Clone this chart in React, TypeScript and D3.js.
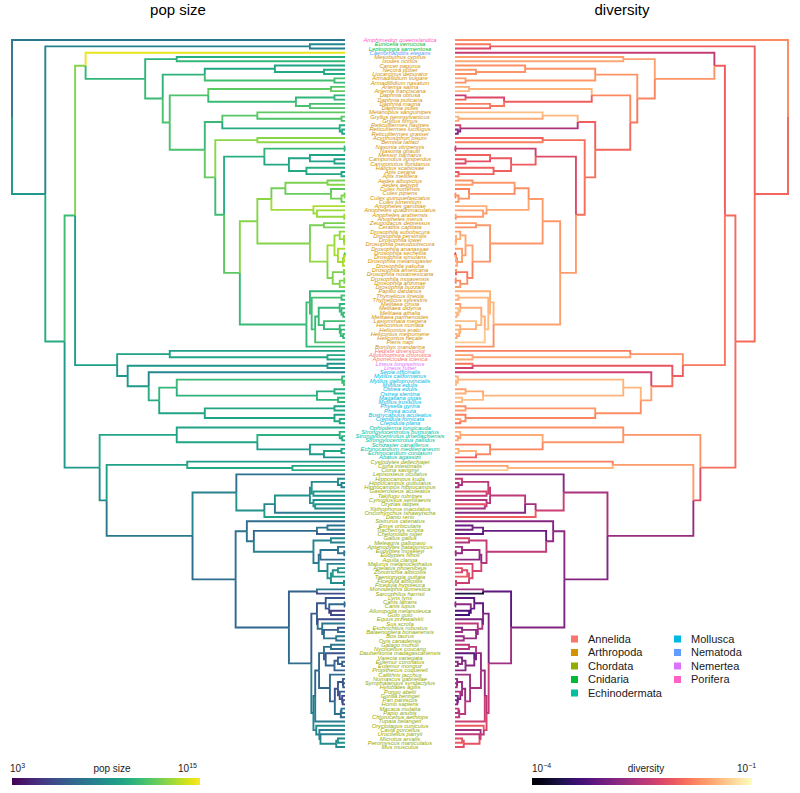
import React, { useMemo } from 'react';
import * as d3 from 'd3';

// ---------------- DATA ----------------
const tipNames: string[] = [
  'Amphimedon queenslandica', 'Eunicella verrucosa', 'Leptogorgia sarmentosa', 'Caenorhabditis elegans',
  'Mesobuthus cyprius', 'Ixodes ricinus', 'Cancer pagurus', 'Necora puber', 'Liocarcinus depurator',
  'Armadillidium vulgare', 'Armadillidium nasatum', 'Artemia salina', 'Artemia franciscana',
  'Daphnia obtusa', 'Daphnia pulicaria', 'Daphnia magna', 'Daphnia pulex', 'Melanoplus sanguinipes',
  'Gryllus pennsylvanicus', 'Gryllus firmus', 'Reticulitermes flavipes', 'Reticulitermes lucifugus',
  'Reticulitermes grassei', 'Acyrthosiphon pisum', 'Bemisia tabaci', 'Nasonia vitripennis',
  'Nasonia giraulti', 'Messor barbarus', 'Camponotus ligniperdus', 'Camponotus floridanus',
  'Halictus scabiosae', 'Apis cerana', 'Apis mellifera', 'Aedes albopictus', 'Aedes aegypti',
  'Culex hortensis', 'Culex pipiens', 'Culex quinquefasciatus', 'Culex torrentium', 'Anopheles gambiae',
  'Anopheles quadrimaculatus', 'Anopheles arabiensis', 'Anopheles merus', 'Zeugodacus depressus',
  'Ceratitis capitata', 'Drosophila subobscura', 'Drosophila persimilis', 'Drosophila lowei',
  'Drosophila pseudoobscura', 'Drosophila ananassae', 'Drosophila sechellia', 'Drosophila simulans',
  'Drosophila melanogaster', 'Drosophila yakuba', 'Drosophila americana', 'Drosophila novamexicana',
  'Drosophila mojavensis', 'Drosophila arizonae', 'Drosophila buzzatii', 'Papilio dardanus',
  'Thymelicus lineola', 'Thymelicus sylvestris', 'Melitaea cinxia', 'Melitaea didyma', 'Melitaea athalia',
  'Melitaea parthenoides', 'Lasiommata megera', 'Heliconius numata', 'Heliconius erato',
  'Heliconius melpomene', 'Heliconius hecale', 'Pieris napi', 'Bombyx mandarina',
  'Hediste diversicolor', 'Allolobophora chlorotica', 'Aporrectodea icterica', 'Lineus longissimus',
  'Lineus ruber', 'Sepia officinalis', 'Mytilus californianus', 'Mytilus galloprovincialis',
  'Mytilus edulis', 'Ostrea edulis', 'Ostrea stentina', 'Magallana gigas', 'Mytilus trossulus',
  'Physella gyrina', 'Physa acuta', 'Bostrycapulus aculeatus', 'Crepidula fornicata', 'Crepidula plana',
  'Ophioderma longicauda', 'Strongylocentrotus purpuratus', 'Strongylocentrotus droebachiensis',
  'Strongylocentrotus pallidus', 'Schizaster canaliferus', 'Echinocardium mediterraneum',
  'Echinocardium cordatum', 'Abatus agassizii', 'Cystodytes dellechiajei', 'Ciona intestinalis',
  'Ciona savignyi', 'Lepisosteus oculatus', 'Hippocampus kuda', 'Hippocampus guttulatus',
  'Hippocampus hippocampus', 'Gasterosteus aculeatus', 'Takifugu rubripes', 'Cynoglossus semilaevis',
  'Oryzias latipes', 'Xiphophorus maculatus', 'Oncorhynchus tshawytscha', 'Danio rerio',
  'Sistrurus catenatus', 'Emys orbicularis', 'Trachemys scripta', 'Chelonoidis niger', 'Gallus gallus',
  'Meleagris gallopavo', 'Aptenodytes patagonicus', 'Eudyptes moseleyi', 'Eudyptes filholi',
  'Aquila clanga', 'Malurus melanocephalus', 'Agelaius phoeniceus', 'Zonotrichia albicollis',
  'Taeniopygia guttata', 'Ficedula albicollis', 'Ficedula hypoleuca', 'Monodelphis domestica',
  'Sarcophilus harrisii', 'Lynx lynx', 'Canis latrans', 'Canis lupus', 'Ailuropoda melanoleuca',
  'Gulo gulo', 'Equus przewalskii', 'Sus scrofa', 'Eschrichtius robustus', 'Balaenoptera bonaerensis',
  'Bos taurus', 'Ovis canadensis', 'Galago moholi', 'Nycticebus coucang', 'Daubentonia madagascariensis',
  'Varecia variegata', 'Eulemur coronatus', 'Eulemur mongoz', 'Propithecus coquereli',
  'Callithrix jacchus', 'Nomascus gabriellae', 'Symphalangus syndactylus', 'Hylobates agilis',
  'Pongo abelii', 'Gorilla beringei', 'Pan paniscus', 'Homo sapiens', 'Macaca mulatta', 'Papio anubis',
  'Chlorocebus aethiops', 'Tupaia belangeri', 'Oryctolagus cuniculus', 'Cavia porcellus',
  'Urocitellus parryii', 'Microtus arvalis', 'Peromyscus maniculatus', 'Mus musculus',
];

// phylum of consecutive tips (name, count)
const phylumRuns: [string, number][] = [
  ['Porifera', 1], ['Cnidaria', 2], ['Nematoda', 1], ['Arthropoda', 69], ['Annelida', 3],
  ['Nemertea', 2], ['Mollusca', 13], ['Echinodermata', 8], ['Chordata', 68],
];

// log10 population size per tip
const tipLogPopSize: number[] = [
  7.6, 8.6, 8.2, 14.6,
  10.5, 11.0, 10.0, 10.2, 10.4, 11.5, 11.2, 11.8, 12.2, 10.8, 11.0, 11.4, 11.6,
  12.0, 11.8, 11.6, 10.5, 10.2, 10.0, 12.8, 13.0, 11.0, 11.0, 10.0, 9.8, 10.0, 10.5, 10.0, 10.2,
  12.5, 12.8, 12.0, 12.6, 12.8, 12.2, 13.5, 13.2, 13.3, 13.0, 12.5, 12.6,
  13.0, 13.2, 13.0, 13.4, 13.5, 12.0, 13.8, 13.6, 13.5, 12.8, 12.5, 12.8, 12.6, 12.9,
  11.0, 11.5, 11.2, 10.8, 11.0, 11.2, 11.0, 11.3, 10.8, 11.0, 11.2, 10.9, 11.6, 11.0,
  9.8, 10.2, 10.0,
  9.0, 9.5,
  8.5, 11.0, 11.2, 11.4, 10.5, 10.4, 10.8, 11.0, 10.0, 10.2, 9.8, 10.5, 10.0,
  10.0, 10.8, 10.6, 10.4, 9.5, 10.0, 10.2, 9.0,
  9.5, 10.0, 10.5,
  7.5, 9.0, 8.5, 8.3, 9.5, 9.0, 9.2, 9.3, 8.8, 8.0, 9.8,
  7.2, 7.5, 7.8, 6.5,
  8.7, 8.2, 7.7, 7.5, 7.6, 7.0, 8.4, 9.2, 9.0, 9.4, 8.8, 8.7,
  7.7, 5.7, 6.2, 7.2, 6.7, 5.2, 5.7, 5.7, 7.7, 6.2, 7.2, 8.0, 7.4,
  7.7, 7.2, 6.2, 6.5, 6.8, 6.6, 6.7, 7.2, 6.2, 6.2, 6.4, 6.4, 5.5, 6.0, 5.7, 7.6, 7.4, 7.2,
  8.0, 8.7, 8.0, 8.2, 8.6, 9.0, 8.7,
];

// log10 nucleotide diversity per tip
const tipLogDiversity: number[] = [
  -1.75, -1.85, -2.2, -2.4,
  -1.6, -1.55, -1.7, -1.65, -1.7, -1.6, -1.7, -1.5, -1.45, -2.4, -2.0, -1.8, -1.9,
  -1.4, -1.5, -1.55, -2.3, -2.8, -2.9, -2.0, -1.8, -2.3, -2.4, -2.0, -2.1, -2.2, -2.0, -2.1, -1.9,
  -1.7, -1.6, -1.8, -1.7, -1.75, -1.65, -1.5, -1.6, -1.55, -1.7, -1.6, -1.7,
  -1.6, -1.5, -1.55, -1.45, -1.6, -2.1, -1.45, -1.55, -1.55, -1.7, -2.0, -1.7, -1.8, -1.65,
  -1.5, -1.45, -1.5, -1.6, -1.4, -1.45, -1.5, -1.4, -1.5, -1.45, -1.5, -1.55, -1.35, -1.7,
  -1.8, -1.6, -1.55,
  -1.9, -2.3,
  -2.3, -1.5, -1.45, -1.4, -1.6, -1.5, -1.4, -1.4, -1.7, -1.6, -1.8, -1.55, -1.9,
  -1.7, -1.5, -1.6, -1.55, -1.8, -1.5, -1.45, -2.0,
  -1.8, -1.6, -1.3,
  -2.85, -2.35, -2.55, -2.65, -2.25, -2.45, -2.55, -2.15, -2.65, -2.85, -2.05,
  -2.85, -3.05, -2.95, -3.15,
  -2.25, -2.55, -2.65, -2.75, -2.7, -2.85, -2.25, -2.15, -2.25, -2.05, -2.35, -2.35,
  -2.65, -3.65, -3.15, -2.75, -2.85, -3.25, -3.35, -2.95, -2.45, -2.85, -2.65, -2.75, -2.65,
  -2.45, -2.55, -3.15, -2.95, -2.75, -2.8, -2.85, -2.65, -2.75, -2.75, -2.65, -2.55, -2.95, -2.95, -2.85, -2.45, -2.55, -2.45,
  -2.35, -2.05, -2.65, -2.45, -2.15, -2.05, -2.15,
];

// Tree topology with node ages (Mya) as internal labels
const cladeMalacostraca = '((Cancer pagurus,(Necora puber,Liocarcinus depurator)60)200,(Armadillidium vulgare,Armadillidium nasatum)30)400';
const cladeBranchiopoda = '((Artemia salina,Artemia franciscana)40,((Daphnia obtusa,Daphnia pulicaria)30,(Daphnia magna,Daphnia pulex)100)140)390';
const cladePolyneoptera = '((Melanoplus sanguinipes,(Gryllus pennsylvanicus,Gryllus firmus)10)250,(Reticulitermes flavipes,(Reticulitermes lucifugus,Reticulitermes grassei)8)15)350';
const cladeParaneoptera = '(Acyrthosiphon pisum,Bemisia tabaci)250';
const cladeHymenoptera = '((Nasonia vitripennis,Nasonia giraulti)1,((Messor barbarus,(Camponotus ligniperdus,Camponotus floridanus)30)100,(Halictus scabiosae,(Apis cerana,Apis mellifera)10)110)160)230';
const cladeCulicidae = '(((Aedes albopictus,Aedes aegypti)50,(Culex hortensis,((Culex pipiens,Culex quinquefasciatus)1,Culex torrentium)10)40)170,(Anopheles gambiae,(Anopheles quadrimaculatus,(Anopheles arabiensis,Anopheles merus)2)80)90)210';
const cladeDrosophila = '(((Drosophila subobscura,(Drosophila persimilis,(Drosophila lowei,Drosophila pseudoobscura)2)3)15,(Drosophila ananassae,(((Drosophila sechellia,Drosophila simulans)0.5,Drosophila melanogaster)3,Drosophila yakuba)6)20)30,((Drosophila americana,Drosophila novamexicana)3,((Drosophila mojavensis,Drosophila arizonae)2,Drosophila buzzatii)15)35)50';
const cladeBrachycera = `((Zeugodacus depressus,Ceratitis capitata)60,${cladeDrosophila})100`;
const cladeDiptera = `(${cladeCulicidae},${cladeBrachycera})250`;
const cladeMelitaea = '(Melitaea cinxia,(Melitaea didyma,(Melitaea athalia,Melitaea parthenoides)5)10)15';
const cladeHeliconius = '(Heliconius numata,(Heliconius erato,(Heliconius melpomene,Heliconius hecale)5)12)15';
const cladeLepidoptera = `((Papilio dardanus,((Thymelicus lineola,Thymelicus sylvestris)10,((${cladeMelitaea},(Lasiommata megera,${cladeHeliconius})60)75,Pieris napi)85)95)100,Bombyx mandarina)110`;
const cladeHolometabola = `(${cladeHymenoptera},(${cladeDiptera},${cladeLepidoptera})300)345`;
const cladeInsecta = `(${cladePolyneoptera},(${cladeParaneoptera},${cladeHolometabola})370)400`;
const cladeArthropoda = `((Mesobuthus cyprius,Ixodes ricinus)480,(${cladeMalacostraca},(${cladeBranchiopoda},${cladeInsecta})500)520)570`;
const cladeAnnelida = '(Hediste diversicolor,(Allolobophora chlorotica,Aporrectodea icterica)50)500';
const cladeNemertea = '(Lineus longissimus,Lineus ruber)50';
const cladeBivalvia = '((Mytilus californianus,(Mytilus galloprovincialis,Mytilus edulis)3)8,((Ostrea edulis,Ostrea stentina)30,(Magallana gigas,Mytilus trossulus)20)80)480';
const cladeGastropoda = '((Physella gyrina,Physa acuta)30,(Bostrycapulus aculeatus,(Crepidula fornicata,Crepidula plana)15)30)400';
const cladeMollusca = `(Sepia officinalis,(${cladeBivalvia},${cladeGastropoda})530)560`;
const cladeEchinodermata = '(Ophioderma longicauda,((Strongylocentrotus purpuratus,(Strongylocentrotus droebachiensis,Strongylocentrotus pallidus)8)15,(Schizaster canaliferus,((Echinocardium mediterraneum,Echinocardium cordatum)10,Abatus agassizii)60)100)250)480';
const cladeHippocampus = '(Hippocampus kuda,(Hippocampus guttulatus,Hippocampus hippocampus)10)20';
const cladeActinopterygii = `(Lepisosteus oculatus,((((${cladeHippocampus},(Gasterosteus aculeatus,Takifugu rubripes)90)95,(Cynoglossus semilaevis,(Oryzias latipes,Xiphophorus maculatus)85)90)100,Oncorhynchus tshawytscha)200,Danio rerio)230)310`;
const cladeAves = '((Gallus gallus,Meleagris gallopavo)40,(((Aptenodytes patagonicus,(Eudyptes moseleyi,Eudyptes filholi)2)20,Aquila clanga)70,(Malurus melanocephalus,(((Agelaius phoeniceus,Zonotrichia albicollis)20,Taeniopygia guttata)35,(Ficedula albicollis,Ficedula hypoleuca)3)40)50)75)90';
const cladeSauropsida = `(Sistrurus catenatus,(((Emys orbicularis,Trachemys scripta)50,Chelonoidis niger)80,${cladeAves})260)280`;
const cladeLaurasiatheria = '((Lynx lynx,((Canis latrans,Canis lupus)1,(Ailuropoda melanoleuca,Gulo gulo)40)45)55,(Equus przewalskii,(Sus scrofa,((Eschrichtius robustus,Balaenoptera bonaerensis)20,(Bos taurus,Ovis canadensis)25)60)65)78)80';
const cladePrimates = '(((Galago moholi,Nycticebus coucang)40,(Daubentonia madagascariensis,((Varecia variegata,(Eulemur coronatus,Eulemur mongoz)8)20,Propithecus coquereli)30)55)60,(Callithrix jacchus,(((Nomascus gabriellae,(Symphalangus syndactylus,Hylobates agilis)5)6,(Pongo abelii,(Gorilla beringei,(Pan paniscus,Homo sapiens)6.5)8)15)20,((Macaca mulatta,Papio anubis)10,Chlorocebus aethiops)12)29)43)74';
const cladeGlires = '(Oryctolagus cuniculus,(Cavia porcellus,(Urocitellus parryii,((Microtus arvalis,Peromyscus maniculatus)20,Mus musculus)25)70)73)82';
const cladeMammalia = `((Monodelphis domestica,Sarcophilus harrisii)80,(${cladeLaurasiatheria},((${cladePrimates},Tupaia belangeri)85,${cladeGlires})90)96)160`;
const cladeChordata = `((Cystodytes dellechiajei,(Ciona intestinalis,Ciona savignyi)150)450,(${cladeActinopterygii},(${cladeSauropsida},${cladeMammalia})312)435)680`;
const treeNewick = `(Amphimedon queenslandica,((Eunicella verrucosa,Leptogorgia sarmentosa)100,(((Caenorhabditis elegans,${cladeArthropoda})740,(${cladeAnnelida},(${cladeNemertea},${cladeMollusca})620)650)770,(${cladeEchinodermata},${cladeChordata})700)800)855)950;`;

const phylumNames = ['Annelida', 'Arthropoda', 'Chordata', 'Cnidaria', 'Echinodermata', 'Mollusca', 'Nematoda', 'Nemertea', 'Porifera'];
const phylumColors = ['#F8766D', '#D39200', '#93AA00', '#00BA38', '#00C19F', '#00B9E3', '#619CFF', '#DB72FB', '#FF61C3'];

const popSizeRange = [3, 15];
const diversityRange = [-4, -1];

// ---------------- HELPERS ----------------
type TNode = { name?: string; age: number; children: TNode[] };

function parseNewick(s: string): TNode {
  let i = 0;
  const readLabel = () => {
    let lab = '';
    while (i < s.length && !',);'.includes(s[i])) lab += s[i++];
    return lab.trim();
  };
  const parseNode = (): TNode => {
    if (s[i] === '(') {
      i++;
      const children: TNode[] = [];
      for (;;) {
        children.push(parseNode());
        if (s[i] === ',') { i++; continue; }
        if (s[i] === ')') { i++; break; }
        throw new Error('newick parse error at ' + i);
      }
      const lab = readLabel();
      return { age: parseFloat(lab), children };
    }
    return { name: readLabel(), age: 0, children: [] };
  };
  return parseNode();
}

const W = 800;
const H = 793;
const FONT = 'Liberation Sans, Arial, Helvetica, sans-serif';

export default function App() {
  const model = useMemo(() => {
    const tree = parseNewick(treeNewick);
    const root = d3.hierarchy<TNode>(tree, (d) => (d.children.length ? d.children : null));
    const leaves = root.leaves();
    const idx = new Map(tipNames.map((n, i) => [n, i]));
    const phylumOf: string[] = [];
    phylumRuns.forEach(([p, c]) => { for (let k = 0; k < c; k++) phylumOf.push(p); });

    const yScale = d3.scaleLinear().domain([0, leaves.length - 1]).range([40, 747]);
    const yPos = new Map<any, number>();
    const vN = new Map<any, number>();
    const vD = new Map<any, number>();
    leaves.forEach((l, i) => yPos.set(l, yScale(i)));
    root.eachAfter((n) => {
      if (!n.children) {
        const k = idx.get(n.data.name!);
        if (k === undefined) console.error('missing', n.data.name);
        vN.set(n, tipLogPopSize[k ?? 0]);
        vD.set(n, tipLogDiversity[k ?? 0]);
      } else {
        yPos.set(n, d3.mean(n.children, (c) => yPos.get(c)!)!);
        vN.set(n, d3.mean(n.children, (c) => vN.get(c)!)!);
        vD.set(n, d3.mean(n.children, (c) => vD.get(c)!)!);
      }
    });
    return { root, leaves, yPos, vN, vD, idx, phylumOf };
  }, []);

  const { root, leaves, yPos, vN, vD, idx, phylumOf } = model;
  const rootAge = root.data.age;
  const xL = d3.scaleLinear().domain([rootAge, 0]).range([12, 345]);
  const xR = d3.scaleLinear().domain([rootAge, 0]).range([788, 455]);
  const cN = d3.scaleSequential(d3.interpolateViridis).domain(popSizeRange);
  const cD = d3.scaleSequential(d3.interpolateMagma).domain(diversityRange);
  const phylumColor = d3.scaleOrdinal<string, string>().domain(phylumNames).range(phylumColors);

  const links = root.descendants().filter((d) => d.parent);
  const pathFor = (d: any, xs: d3.ScaleLinear<number, number>) =>
    `M${xs(d.parent.data.age)},${yPos.get(d.parent)}V${yPos.get(d)}H${xs(d.data.age)}`;

  const gradN = d3.range(0, 1.0001, 0.05).map((t) => ({ t, c: d3.interpolateViridis(t) }));
  const gradD = d3.range(0, 1.0001, 0.05).map((t) => ({ t, c: d3.interpolateMagma(t) }));

  const legendCols = [phylumNames.slice(0, 5), phylumNames.slice(5)];

  return (
    <svg width={W} height={H} style={{ position: 'absolute', left: 0, top: 0, background: '#fff' }} fontFamily={FONT}>
      <defs>
        <linearGradient id="gN" x1="0" x2="1" y1="0" y2="0">
          {gradN.map((g) => <stop key={g.t} offset={g.t} stopColor={g.c} />)}
        </linearGradient>
        <linearGradient id="gD" x1="0" x2="1" y1="0" y2="0">
          {gradD.map((g) => <stop key={g.t} offset={g.t} stopColor={g.c} />)}
        </linearGradient>
      </defs>
      <rect width={W} height={H} fill="#fff" />
      <text x={178} y={15} fontSize={15} textAnchor="middle" fill="#000">pop size</text>
      <text x={622} y={15} fontSize={15} textAnchor="middle" fill="#000">diversity</text>

      <g fill="none" strokeWidth={1.9}>
        {links.map((d, i) => (
          <path key={'l' + i} d={pathFor(d, xL)} stroke={cN(vN.get(d)!)} />
        ))}
        {links.map((d, i) => (
          <path key={'r' + i} d={pathFor(d, xR)} stroke={cD(vD.get(d)!)} />
        ))}
      </g>

      <g fontSize={5.8} fontStyle="italic" textAnchor="middle">
        {leaves.map((l, i) => {
          const k = idx.get(l.data.name!) ?? 0;
          return (
            <text key={i} x={400} y={yPos.get(l)} dy="0.35em" fill={phylumColor(phylumOf[k])}>
              {l.data.name}
            </text>
          );
        })}
      </g>

      <g fontSize={11} fill="#1a1a1a">
        {legendCols.map((col, ci) =>
          col.map((p, ri) => (
            <g key={p} transform={`translate(${ci === 0 ? 571 : 674},${639 + ri * 13.5})`}>
              <rect x={0} y={-3.5} width={7} height={7} fill={phylumColor(p)} />
              <text x={17} y={0} dy="0.35em">{p}</text>
            </g>
          )),
        )}
      </g>

      <g fontSize={10} fill="#1a1a1a">
        <text x={10} y={772}>10<tspan dy={-4} fontSize={7}>3</tspan></text>
        <text x={112} y={772} textAnchor="middle">pop size</text>
        <text x={178} y={772}>10<tspan dy={-4} fontSize={7}>15</tspan></text>
        <rect x={12} y={778} width={188} height={7} fill="url(#gN)" />
        <text x={532} y={772}>10<tspan dy={-4} fontSize={7}>−4</tspan></text>
        <text x={646} y={772} textAnchor="middle">diversity</text>
        <text x={737} y={772}>10<tspan dy={-4} fontSize={7}>−1</tspan></text>
        <rect x={532} y={778} width={220} height={7} fill="url(#gD)" />
      </g>
    </svg>
  );
}
